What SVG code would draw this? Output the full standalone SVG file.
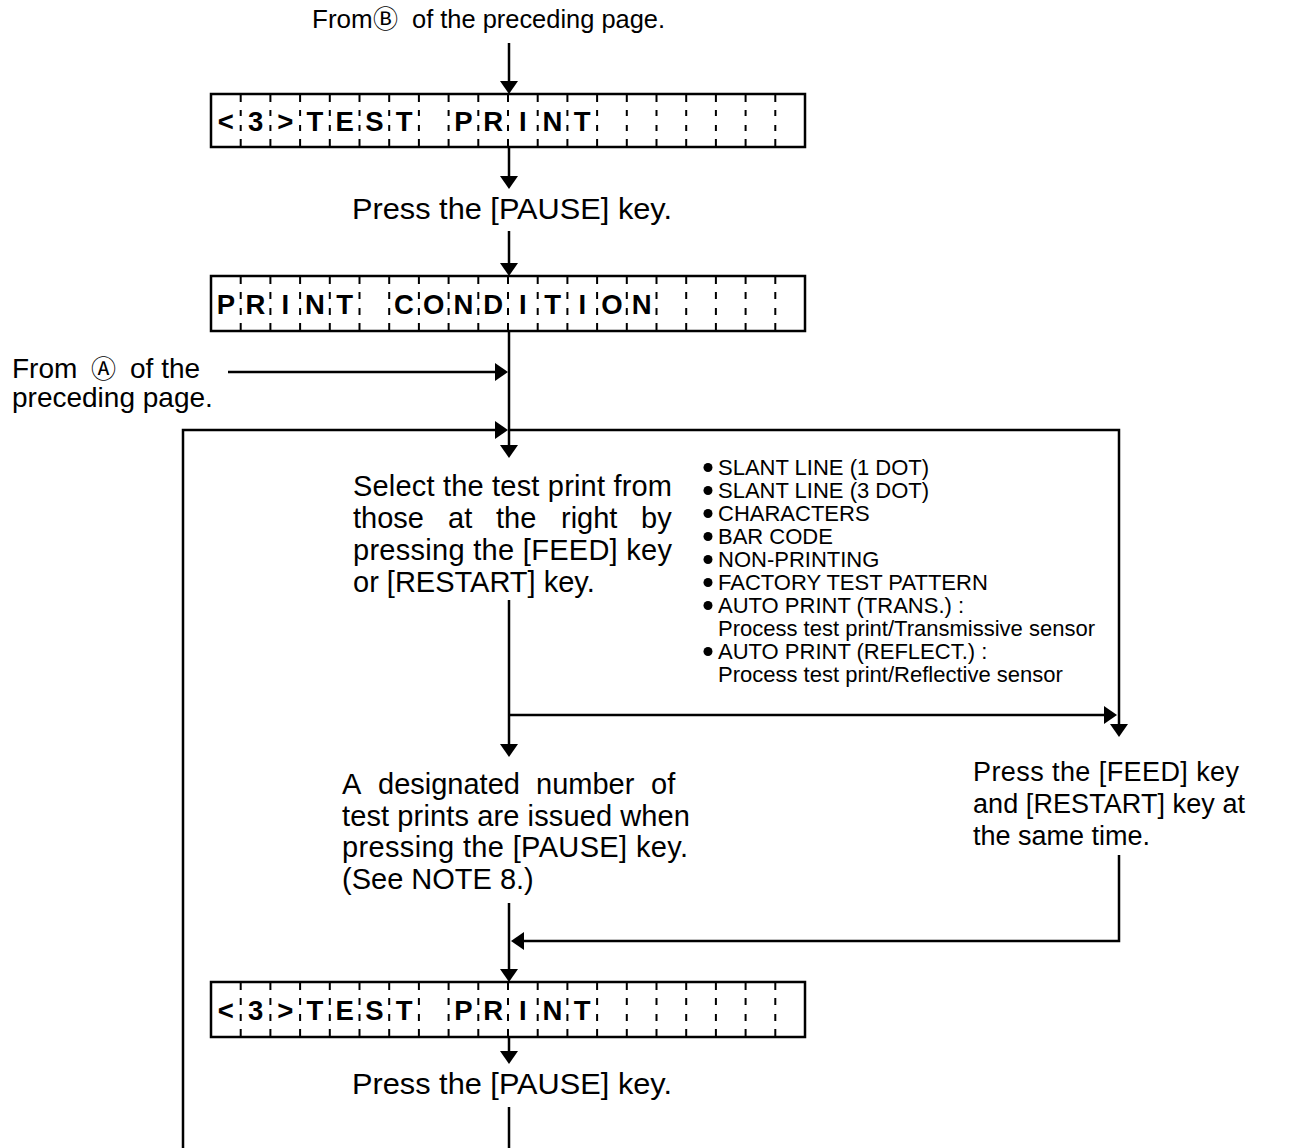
<svg xmlns="http://www.w3.org/2000/svg" width="1289" height="1148" viewBox="0 0 1289 1148">
<defs>
<style>
.t{font-family:"Liberation Sans","DejaVu Sans","Noto Sans CJK JP",sans-serif;fill:#000}
.m{font-size:29px}
.l{font-size:22px}
.cj{font-family:"Noto Sans CJK JP","DejaVu Sans",sans-serif}
.lcdt{font-family:"Liberation Sans",sans-serif;font-weight:bold;font-size:27.5px;text-anchor:middle;fill:#000}
.box{fill:#fff;stroke:#000;stroke-width:2.5}
.dv{stroke:#000;stroke-width:2;fill:none}
.c{fill:none;stroke:#000;stroke-width:2.5}
</style>
<marker id="ah" markerUnits="userSpaceOnUse" markerWidth="14" markerHeight="18" refX="9" refY="9" orient="auto"><path d="M0,0 L13,9 L0,18 z" fill="#000"/></marker>
</defs>
<rect width="1289" height="1148" fill="#fff"/>

<g id="connectors" class="c">
<path d="M509,43 V90" marker-end="url(#ah)"/>
<path d="M509,147 V185" marker-end="url(#ah)"/>
<path d="M509,231 V272" marker-end="url(#ah)"/>
<path d="M509,331 V454" marker-end="url(#ah)"/>
<path d="M228,372 H504" marker-end="url(#ah)"/>
<path d="M183,1148 V430 H504" marker-end="url(#ah)"/>
<path d="M509,430 H1119 V733" marker-end="url(#ah)"/>
<path d="M509,600 V753" marker-end="url(#ah)"/>
<path d="M509,715 H1113" marker-end="url(#ah)"/>
<path d="M509,903 V978" marker-end="url(#ah)"/>
<path d="M1119,855 V941 H515" marker-end="url(#ah)"/>
<path d="M509,1037 V1060" marker-end="url(#ah)"/>
<path d="M509,1107 V1148"/>
</g>

<g id="from-b">
<text class="t" font-size="26" y="28"><tspan x="312">From</tspan><tspan class="cj" font-size="25" x="373">Ⓑ</tspan><tspan x="412" textLength="253" lengthAdjust="spacingAndGlyphs">of the preceding page.</tspan></text>
</g>

<g id="lcd-test-print-1">
<rect class="box" x="211" y="94" width="594" height="53"/>
<path class="dv" stroke-dasharray="8 8 6 9 6 8 8" d="M240.7,94v53M270.4,94v53M300.1,94v53M329.8,94v53M359.5,94v53M389.2,94v53M418.9,94v53M448.6,94v53M478.3,94v53M508,94v53M537.7,94v53M567.4,94v53M597.1,94v53M626.8,94v53M656.5,94v53M686.2,94v53M715.9,94v53M745.6,94v53M775.3,94v53"/>
<text class="lcdt" y="130.5" x="225.85 255.55 285.25 314.95 344.65 374.35 404.05 463.45 493.15 522.85 552.55 582.25">&lt;3&gt;TESTPRINT</text>
</g>

<g id="press-pause-1">
<text class="t m" x="352" y="219" textLength="320" lengthAdjust="spacingAndGlyphs">Press the [PAUSE] key.</text>
</g>

<g id="lcd-print-condition">
<rect class="box" x="211" y="276" width="594" height="55"/>
<path class="dv" stroke-dasharray="8 8 7 9 7 8 8" d="M240.7,276v55M270.4,276v55M300.1,276v55M329.8,276v55M359.5,276v55M389.2,276v55M418.9,276v55M448.6,276v55M478.3,276v55M508,276v55M537.7,276v55M567.4,276v55M597.1,276v55M626.8,276v55M656.5,276v55M686.2,276v55M715.9,276v55M745.6,276v55M775.3,276v55"/>
<text class="lcdt" y="313.5" x="225.85 255.55 285.25 314.95 344.65 404.05 433.75 463.45 493.15 522.85 552.55 582.25 611.95 641.65">PRINTCONDITION</text>
</g>

<g id="from-a">
<text class="t" font-size="28" y="378"><tspan x="12">From</tspan><tspan class="cj" font-size="25" x="91">Ⓐ</tspan><tspan x="130">of the</tspan></text>
<text class="t" font-size="28" x="12" y="407">preceding page.</text>
</g>

<g id="select-test-print">
<text class="t m">
<tspan x="353" y="496" textLength="319">Select the test print from</tspan>
<tspan x="353" y="528">those</tspan><tspan x="448" y="528">at</tspan><tspan x="496" y="528">the</tspan><tspan x="561" y="528">right</tspan><tspan x="641" y="528">by</tspan>
<tspan x="353" y="560" textLength="319">pressing the [FEED] key</tspan>
<tspan x="353" y="592">or [RESTART] key.</tspan>
</text>
</g>

<g id="test-list">
<g fill="#000">
<circle cx="708" cy="467.5" r="4.5"/>
<circle cx="708" cy="490.5" r="4.5"/>
<circle cx="708" cy="513.5" r="4.5"/>
<circle cx="708" cy="536.5" r="4.5"/>
<circle cx="708" cy="559.5" r="4.5"/>
<circle cx="708" cy="582.5" r="4.5"/>
<circle cx="708" cy="605.5" r="4.5"/>
<circle cx="708" cy="651.5" r="4.5"/>
</g>
<text class="t l">
<tspan x="718" y="475">SLANT LINE (1 DOT)</tspan>
<tspan x="718" y="498">SLANT LINE (3 DOT)</tspan>
<tspan x="718" y="521">CHARACTERS</tspan>
<tspan x="718" y="544">BAR CODE</tspan>
<tspan x="718" y="567">NON-PRINTING</tspan>
<tspan x="718" y="590">FACTORY TEST PATTERN</tspan>
<tspan x="718" y="613">AUTO PRINT (TRANS.) :</tspan>
<tspan x="718" y="636">Process test print/Transmissive sensor</tspan>
<tspan x="718" y="659">AUTO PRINT (REFLECT.) :</tspan>
<tspan x="718" y="682">Process test print/Reflective sensor</tspan>
</text>
</g>

<g id="designated-number">
<text class="t m">
<tspan x="342" y="794">A</tspan><tspan x="378" y="794">designated</tspan><tspan x="536" y="794">number</tspan><tspan x="651" y="794">of</tspan>
<tspan x="342" y="826" textLength="348">test prints are issued when</tspan>
<tspan x="342" y="857" textLength="346">pressing the [PAUSE] key.</tspan>
<tspan x="342" y="889">(See NOTE 8.)</tspan>
</text>
</g>

<g id="press-feed-restart">
<text class="t" font-size="27">
<tspan x="973" y="781" textLength="266">Press the [FEED] key</tspan>
<tspan x="973" y="813" textLength="272">and [RESTART] key at</tspan>
<tspan x="973" y="845">the same time.</tspan>
</text>
</g>

<g id="lcd-test-print-2">
<rect class="box" x="211" y="982" width="594" height="55"/>
<path class="dv" stroke-dasharray="8 8 7 9 7 8 8" d="M240.7,982v55M270.4,982v55M300.1,982v55M329.8,982v55M359.5,982v55M389.2,982v55M418.9,982v55M448.6,982v55M478.3,982v55M508,982v55M537.7,982v55M567.4,982v55M597.1,982v55M626.8,982v55M656.5,982v55M686.2,982v55M715.9,982v55M745.6,982v55M775.3,982v55"/>
<text class="lcdt" y="1019.5" x="225.85 255.55 285.25 314.95 344.65 374.35 404.05 463.45 493.15 522.85 552.55 582.25">&lt;3&gt;TESTPRINT</text>
</g>

<g id="press-pause-2">
<text class="t m" x="352" y="1094" textLength="320" lengthAdjust="spacingAndGlyphs">Press the [PAUSE] key.</text>
</g>
</svg>
